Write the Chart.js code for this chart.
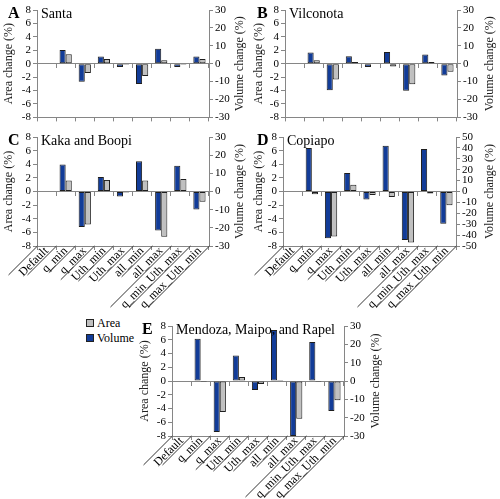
<!DOCTYPE html>
<html>
<head>
<meta charset="utf-8">
<title>Area and volume change</title>
<script src="https://cdn.jsdelivr.net/npm/chart.js@4.4.1/dist/chart.umd.min.js"></script>
<style>
    body { margin: 0; background: #fff; }
    #wrap { position: relative; width: 500px; height: 499px; overflow: hidden; }
    canvas { position: absolute; }
    #legend { position: absolute; left: 86px; top: 316px; font: 12px "Liberation Serif", serif; color: #000; line-height: 15px; }
    #legend .box { display: inline-block; width: 6px; height: 6px; border: 1px solid #222; margin-right: 3px; }
</style>
</head>
<body>
<div id="wrap">
    <canvas id="chartA" width="250" height="126" style="left:0;top:0"></canvas>
    <canvas id="chartB" width="250" height="126" style="left:250px;top:0"></canvas>
    <canvas id="chartC" width="250" height="189" style="left:0;top:127px"></canvas>
    <canvas id="chartD" width="250" height="189" style="left:250px;top:127px"></canvas>
    <canvas id="chartE" width="250" height="183" style="left:136px;top:316px"></canvas>
    <div id="legend"></div>
</div>
<script>
"use strict";

const categories = ["Default", "q_min", "q_max", "Uth_min", "Uth_max",
                    "all_min", "all_max", "q_min_Uth_max", "q_max_Uth_min"];

const areaTicks = [-8, -6, -4, -2, 0, 2, 4, 6, 8];

// volume change (%) - right axis, area change (%) - left axis
const santaVolume = [0, 7.7, -10.1, 4.0, -1.8, -11.4, 8.4, -1.8, 4.0];
const santaArea = [0, 1.4, -1.4, 0.7, -0.15, -1.85, 0.5, -0.15, 0.7];

const vilconotaVolume = [0, 6.2, -14.8, 4.1, -1.9, 6.5, -15.1, 5.2, -6.6];
const vilconotaArea = [0, 0.5, -2.35, 0.25, -0.1, -0.4, -3.05, 0.25, -1.2];

const kakaVolume = [0, 14.8, -19.6, 8.0, -2.8, 16.6, -21.4, 14.2, -9.9];
const kakaArea = [0, 1.6, -4.85, 1.7, -0.15, 1.6, -6.65, 1.85, -1.5];

const copiapoVolume = [0, 40.0, -43.0, 17.0, -7.3, 42.0, -44.5, 39.0, -29.6];
const copiapoArea = [0, -0.4, -6.6, 1.0, -0.5, -0.8, -7.5, -0.3, -2.0];

const mendozaVolume = [0, 23.0, -27.8, 13.9, -4.9, 27.8, -30.0, 21.3, -16.3];
const mendozaArea = [0, -0.15, -4.5, 0.6, -0.45, 0.15, -5.5, -0.15, -2.8];

const BLUE = "#123c98";
const GRAY = "#c0c0c0";
const EDGE = "#1e1e1e";
const AXIS = "#868686";
const SERIF = "'Liberation Serif', 'Times New Roman', serif";
const LABEL_SIZE = 12;

const panels = [
    {canvas: "chartA", letter: "A", name: "Santa", volume: santaVolume, area: santaArea,
     volLimit: 30, labels: false, top: 10, left: 37, right: 41, xHeight: 7, letterX: 8},
    {canvas: "chartB", letter: "B", name: "Vilconota", volume: vilconotaVolume, area: vilconotaArea,
     volLimit: 30, labels: false, top: 10, left: 35, right: 43, xHeight: 7, letterX: 7},
    {canvas: "chartC", letter: "C", name: "Kaka and Boopi", volume: kakaVolume, area: kakaArea,
     volLimit: 30, labels: true, top: 10, left: 37, right: 41, xHeight: 70, letterX: 8},
    {canvas: "chartD", letter: "D", name: "Copiapo", volume: copiapoVolume, area: copiapoArea,
     volLimit: 50, labels: true, top: 10, left: 33, right: 44, xHeight: 70, letterX: 7},
    {canvas: "chartE", letter: "E", name: "Mendoza, Maipo, and Rapel", volume: mendozaVolume, area: mendozaArea,
     volLimit: 30, labels: true, top: 10, left: 36, right: 42, xHeight: 63, letterX: 6}
];

// panel letter, catchment name and the right axis title (read bottom to top)
const panelText = {
    id: "panelText",
    afterDraw(chart, args, opts) {
        const {ctx, chartArea} = chart;
        ctx.save();
        ctx.fillStyle = "#000";
        ctx.textBaseline = "middle";
        ctx.font = "bold 16px " + SERIF;
        ctx.fillText(opts.letter, opts.letterX, chartArea.top + 4);
        ctx.font = "14px " + SERIF;
        ctx.fillText(opts.name, chartArea.left + 4, chartArea.top + 4);

        ctx.fillStyle = "#222";
        ctx.font = "12px " + SERIF;
        ctx.textAlign = "center";
        ctx.translate(chart.width - 10, (chartArea.top + chartArea.bottom) / 2);
        ctx.rotate(-Math.PI / 2);
        ctx.fillText("Volume change (%)", 0, 0);
        ctx.restore();
    }
};

// slanted separators between the rotated category labels
const separators = {
    id: "separators",
    afterDraw(chart) {
        const x = chart.scales.x;
        if (!x.options.ticks.display)
            return;
        const ctx = chart.ctx;
        const n = categories.length;
        const step = (x.right - x.left) / n;
        ctx.save();
        ctx.font = LABEL_SIZE + "px " + SERIF;
        const widths = categories.map(c => ctx.measureText(c).width);
        ctx.strokeStyle = "#333";
        ctx.lineWidth = 1;
        for (let i = 0; i <= n; i++) {
            const len = Math.max(widths[i - 1] || 0, widths[i] || 0) + 5;
            const d = len / Math.SQRT2;
            const bx = Math.round(x.left + i * step) + 0.5;
            ctx.beginPath();
            ctx.moveTo(bx, x.top);
            ctx.lineTo(bx - d, x.top + d);
            ctx.stroke();
        }
        ctx.restore();
    }
};

function makePanel(p)
{
    const tickFont = {family: SERIF, size: 11};
    const barStyle = {borderColor: EDGE, borderWidth: 1, borderSkipped: false,
                      categoryPercentage: 0.64, barPercentage: 1};

    return new Chart(document.getElementById(p.canvas), {
        type: "bar",
        data: {
            labels: categories,
            datasets: [
                Object.assign({label: "Volume", data: p.volume, yAxisID: "y1", backgroundColor: BLUE}, barStyle),
                Object.assign({label: "Area", data: p.area, yAxisID: "y", backgroundColor: GRAY}, barStyle)
            ]
        },
        options: {
            responsive: false,
            animation: false,
            layout: {padding: {top: p.top, left: 0, right: 0, bottom: 0}},
            plugins: {
                legend: {display: false},
                tooltip: {enabled: false},
                panelText: {letter: p.letter, name: p.name, letterX: p.letterX}
            },
            scales: {
                x: {
                    offset: true,
                    grid: {offset: true, drawOnChartArea: false, color: AXIS, tickLength: 4},
                    border: {color: AXIS},
                    ticks: {display: p.labels, minRotation: 45, maxRotation: 45, autoSkip: false,
                            font: {family: SERIF, size: LABEL_SIZE}, color: "#000", padding: -6},
                    afterFit: s => { s.height = p.xHeight; }
                },
                x2: {
                    axis: "x",
                    type: "category",
                    labels: categories,
                    position: {y: 0},
                    offset: true,
                    grid: {offset: true, drawOnChartArea: false, color: AXIS, tickLength: 4},
                    border: {color: AXIS},
                    ticks: {display: false}
                },
                y: {
                    position: "left",
                    min: areaTicks[0],
                    max: areaTicks[areaTicks.length - 1],
                    afterBuildTicks: s => { s.ticks = areaTicks.map(v => ({value: v})); },
                    grid: {drawOnChartArea: false, color: AXIS, tickLength: 4},
                    border: {color: AXIS},
                    ticks: {font: tickFont, color: "#000", padding: 2, autoSkip: false},
                    title: {display: true, text: "Area change (%)", color: "#222",
                            font: {family: SERIF, size: 12}, padding: {top: 2, bottom: 0}},
                    afterFit: s => { s.width = p.left; }
                },
                y1: {
                    position: "right",
                    min: -p.volLimit,
                    max: p.volLimit,
                    grid: {drawOnChartArea: false, color: AXIS, tickLength: 4},
                    border: {color: AXIS},
                    ticks: {stepSize: 10, font: tickFont, color: "#000", padding: 2, autoSkip: false},
                    afterFit: s => { s.width = p.right; }
                }
            }
        },
        plugins: [panelText, separators]
    });
}

function buildLegend(chart)
{
    const legend = document.getElementById("legend");
    chart.data.datasets.slice().reverse().forEach(ds => {
        const row = document.createElement("div");
        const box = document.createElement("span");
        box.className = "box";
        box.style.background = ds.backgroundColor;
        row.appendChild(box);
        row.appendChild(document.createTextNode(ds.label));
        legend.appendChild(row);
    });
}

const charts = panels.map(makePanel);
buildLegend(charts[4]);
</script>
</body>
</html>
